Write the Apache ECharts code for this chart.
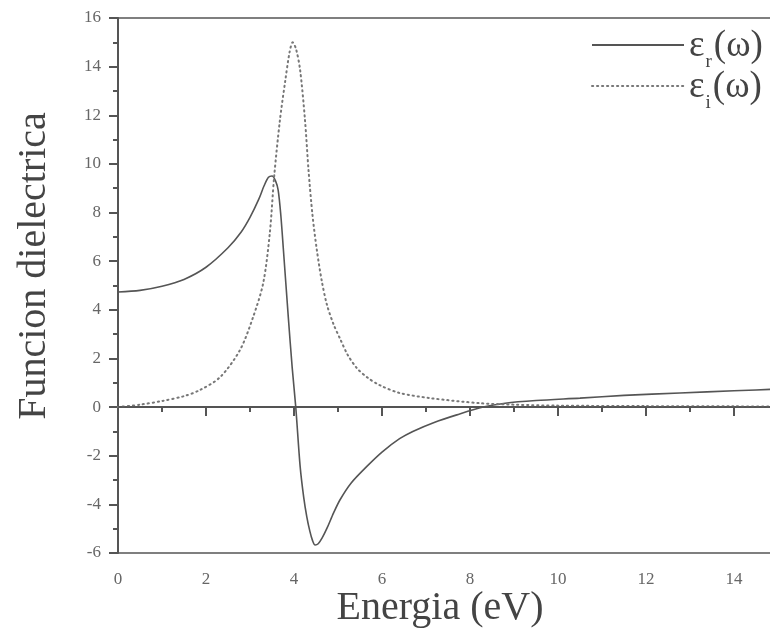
<!DOCTYPE html>
<html><head><meta charset="utf-8">
<script src="https://cdn.jsdelivr.net/npm/echarts@6/dist/echarts.min.js"></script>
<style>html,body{margin:0;padding:0;background:#fff;overflow:hidden}#c{width:770px;height:643px}</style>
</head><body><div id="c"></div>
<script>
// Energy (eV) and real part of the dielectric function
const energyR = [0, 0.5, 1.0, 1.5, 2.0, 2.5, 2.8, 3.0, 3.2, 3.32, 3.42, 3.5, 3.58, 3.64, 3.7, 3.76, 3.87, 3.96, 4.04, 4.14, 4.22, 4.29, 4.36, 4.42, 4.48, 4.55, 4.64, 4.75, 4.9, 5.05, 5.3, 5.65, 6.0, 6.4, 6.7, 7.2, 7.7, 8.3, 8.8, 9.5, 10.5, 11.5, 12.77, 14.0, 15.0, 16.0];
const epsR    = [4.73, 4.8, 4.97, 5.25, 5.75, 6.55, 7.2, 7.8, 8.55, 9.1, 9.45, 9.5, 9.3, 8.92, 7.9, 6.45, 3.71, 1.6, 0.0, -2.45, -3.7, -4.5, -5.1, -5.48, -5.67, -5.62, -5.38, -4.98, -4.35, -3.8, -3.12, -2.45, -1.85, -1.3, -1.0, -0.62, -0.32, 0.0, 0.16, 0.27, 0.37, 0.48, 0.58, 0.67, 0.74, 0.8];
// Imaginary part
const energyI = [0, 0.5, 1.0, 1.5, 1.86, 2.32, 2.77, 3.07, 3.3, 3.45, 3.55, 3.68, 3.8, 3.9, 3.97, 4.05, 4.14, 4.25, 4.33, 4.42, 4.52, 4.63, 4.75, 4.9, 5.05, 5.22, 5.43, 5.68, 5.95, 6.4, 7.09, 8.23, 9.0, 10.0, 12.0, 14.0, 16.0];
const epsI    = [0, 0.1, 0.25, 0.45, 0.7, 1.23, 2.34, 3.7, 5.1, 7.15, 9.5, 11.8, 13.4, 14.6, 15.0, 14.7, 13.85, 11.8, 9.74, 7.9, 6.45, 5.2, 4.2, 3.4, 2.8, 2.15, 1.6, 1.2, 0.9, 0.58, 0.37, 0.16, 0.1, 0.06, 0.04, 0.03, 0.02];
const seriesNames = ['εr(ω)', 'εi(ω)'];
const xTickLabels = ['0', '2', '4', '6', '8', '10', '12', '14'];
const xTitle = 'Energia (eV)';
const yTitle = 'Funcion dielectrica';

const zip = (a, b) => a.map((v, i) => [v, b[i]]);
const font = '"Liberation Serif", "Times New Roman", serif';
const axisCol = '#555';
const chart = echarts.init(document.getElementById('c'), null, {renderer: 'canvas'});
chart.setOption({
  animation: false,
  backgroundColor: '#fff',
  grid: {left: 118, top: 18, height: 535, width: 704, outerBoundsMode: 'none', show: true, borderColor: axisCol, borderWidth: 1.5, containLabel: false},
  xAxis: {
    type: 'value', min: 0, max: 16, interval: 2,
    axisLine: {show: true, lineStyle: {color: axisCol, width: 2}},
    axisTick: {show: true, inside: false, length: 9, lineStyle: {color: axisCol, width: 2}},
    minorTick: {show: true, splitNumber: 2, length: 5, lineStyle: {color: axisCol, width: 2}},
    splitLine: {show: false},
    axisLabel: {margin: 18, fontFamily: font, fontSize: 17, color: '#666',
      formatter: v => xTickLabels.includes(String(v)) ? String(v) : ''}
  },
  yAxis: {
    type: 'value', min: -6, max: 16, interval: 2,
    axisLine: {show: true, onZero: false, lineStyle: {color: axisCol, width: 2}},
    axisTick: {show: true, inside: false, length: 9, lineStyle: {color: axisCol, width: 2}},
    minorTick: {show: true, splitNumber: 2, length: 5, lineStyle: {color: axisCol, width: 2}},
    splitLine: {show: false},
    axisLabel: {margin: 17, fontFamily: font, fontSize: 17, color: '#666'}
  },
  legend: {
    data: seriesNames, orient: 'vertical', left: 586, top: 23, itemWidth: 92, itemHeight: 16, itemGap: -12,
    itemStyle: {opacity: 0},
    formatter: n => '{m|ε}{s|' + n.charAt(1) + '}{m|(ω)}',
    textStyle: {
      rich: {
        m: {fontFamily: font, fontSize: 37, color: '#444', lineHeight: 34, verticalAlign: 'top', padding: [0, 0, 16, 0]},
        s: {fontFamily: font, fontSize: 19, color: '#444', lineHeight: 24, verticalAlign: 'top', padding: [25, 2, 0, 1]}
      }
    }
  },
  graphic: [
    {type: 'text', x: 440, y: 608, silent: true,
      style: {text: xTitle, font: '40px ' + font, fill: '#444', textAlign: 'center', textVerticalAlign: 'middle', align: 'center', verticalAlign: 'middle'}},
    {type: 'text', x: 34, y: 266, rotation: Math.PI / 2, silent: true,
      style: {text: yTitle, font: '40px ' + font, fill: '#444', textAlign: 'center', textVerticalAlign: 'middle', align: 'center', verticalAlign: 'middle'}}
  ],
  series: [
    {name: seriesNames[0], type: 'line', data: zip(energyR, epsR), symbol: 'none', smooth: 0.3,
      lineStyle: {color: '#555', width: 1.6, type: 'solid'}, itemStyle: {color: '#555'},
      markLine: {silent: true, symbol: 'none', label: {show: false}, animation: false,
        lineStyle: {color: axisCol, width: 1.5, type: 'solid'}, data: [{yAxis: 0}]}},
    {name: seriesNames[1], type: 'line', data: zip(energyI, epsI), symbol: 'none', smooth: 0.3,
      lineStyle: {color: '#777', width: 2, type: [1.2, 3.8], cap: 'round'}, itemStyle: {color: '#777'}}
  ]
});
</script></body></html>
